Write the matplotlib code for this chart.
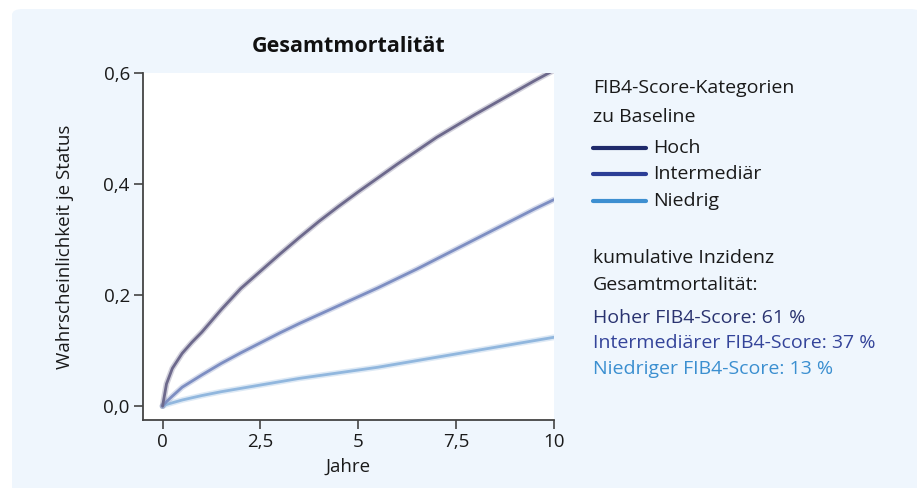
import matplotlib
matplotlib.use("Agg")
import matplotlib.pyplot as plt
from matplotlib.patches import FancyBboxPatch
from matplotlib.lines import Line2D

plt.rcParams['font.family'] = ['Open Sans', 'DejaVu Sans']

years = [0, 0.1, 0.25, 0.5, 0.75, 1, 1.5, 2, 2.5, 3, 3.5, 4, 4.5, 5, 5.5, 6, 6.5, 7,
         7.5, 8, 8.5, 9, 9.5, 10]
hoch = [0, 0.04, 0.068, 0.095, 0.115, 0.133, 0.174, 0.212, 0.243, 0.274, 0.304, 0.333,
        0.36, 0.386, 0.411, 0.436, 0.46, 0.484, 0.505, 0.526, 0.546, 0.566, 0.586, 0.605]
intermed = [0, 0.008, 0.018, 0.034, 0.045, 0.056, 0.077, 0.096, 0.114, 0.132, 0.149, 0.165,
            0.181, 0.197, 0.213, 0.23, 0.247, 0.265, 0.283, 0.301, 0.319, 0.337, 0.355, 0.372]
niedrig = [0, 0.003, 0.006, 0.011, 0.015, 0.019, 0.026, 0.032, 0.038, 0.044, 0.05, 0.055,
           0.06, 0.065, 0.07, 0.076, 0.082, 0.088, 0.094, 0.1, 0.106, 0.112, 0.118, 0.124]

xticks = [0, 2.5, 5, 7.5, 10]
xticklabels = ['0', '2,5', '5', '7,5', '10']
yticks = [0, 0.2, 0.4, 0.6]
yticklabels = ['0,0', '0,2', '0,4', '0,6']

legend_labels = ['Hoch', 'Intermediär', 'Niedrig']
legend_colors = ['#1f2a6b', '#2c3e96', '#3d8fd1']
plot_colors = ['#6d698c', '#7d8ec2', '#91b7de']
summary_lines = ['Hoher FIB4-Score: 61 %', 'Intermediärer FIB4-Score: 37 %',
                 'Niedriger FIB4-Score: 13 %']
summary_colors = ['#2a3370', '#34449a', '#3b8fd0']

W, H = 917, 488
fig = plt.figure(figsize=(W / 100, H / 100), dpi=100)
fig.patch.set_facecolor('white')

bg = FancyBboxPatch((12 / W, -0.05), (W - 8) / W, (488 - 9) / H + 0.05,
                    boxstyle="round,pad=0,rounding_size=0.012",
                    transform=fig.transFigure, facecolor='#eff6fd', edgecolor='none',
                    zorder=-10)
fig.patches.append(bg)

ax = fig.add_axes([143 / W, 1 - 420 / H, (554 - 143) / W, (420 - 73) / H])
ax.set_facecolor('white')

for ys, c in zip([niedrig, intermed, hoch], plot_colors[::-1]):
    ax.plot(years, ys, color=c, lw=4.2, alpha=0.3, solid_capstyle='round',
            solid_joinstyle='round', zorder=2)
    ax.plot(years, ys, color=c, lw=2.0, solid_capstyle='round',
            solid_joinstyle='round', zorder=3)

ax.set_xlim(-0.5, 10)
ax.set_ylim(-0.025, 0.6)
ax.set_xticks(xticks)
ax.set_xticklabels(xticklabels)
ax.set_yticks(yticks)
ax.set_yticklabels(yticklabels)
for s in ['top', 'right']:
    ax.spines[s].set_visible(False)
for s in ['left', 'bottom']:
    ax.spines[s].set_color('#444444')
    ax.spines[s].set_linewidth(1.3)
ax.tick_params(axis='both', length=6.5, width=1.2, color='#444444', labelsize=13.5,
               labelcolor='#1a1a1a', pad=3)
ax.set_xlabel('Jahre', fontsize=13.5, color='#1a1a1a', labelpad=5)
ax.set_ylabel('Wahrscheinlichkeit je Status', fontsize=13.5, color='#1a1a1a', labelpad=21)
ax.set_title('Gesamtmortalität', fontsize=15.5, fontweight='bold', color='#111111', pad=15)

fx = 593 / W
def fy(py):
    return 1 - py / H

fs = 14
fig.text(fx, fy(88), 'FIB4-Score-Kategorien', fontsize=fs, color='#1a1a1a', va='center')
fig.text(fx, fy(117), 'zu Baseline', fontsize=fs, color='#1a1a1a', va='center')
for i, (lab, c) in enumerate(zip(legend_labels, legend_colors)):
    py = [148, 174, 201][i]
    fig.add_artist(Line2D([593 / W, 646 / W], [fy(py), fy(py)], color=c, lw=3,
                          solid_capstyle='round', transform=fig.transFigure))
    fig.text(653 / W, fy(py), lab, fontsize=fs, color='#1a1a1a', va='center')

fig.text(fx, fy(258), 'kumulative Inzidenz', fontsize=fs, color='#1a1a1a', va='center')
fig.text(fx, fy(285), 'Gesamtmortalität:', fontsize=fs, color='#1a1a1a', va='center')
for i, (t, c) in enumerate(zip(summary_lines, summary_colors)):
    py = [318, 343, 369][i]
    fig.text(fx, fy(py), t, fontsize=fs, color=c, va='center')

fig.savefig('out.png', dpi=100, facecolor=fig.get_facecolor())
